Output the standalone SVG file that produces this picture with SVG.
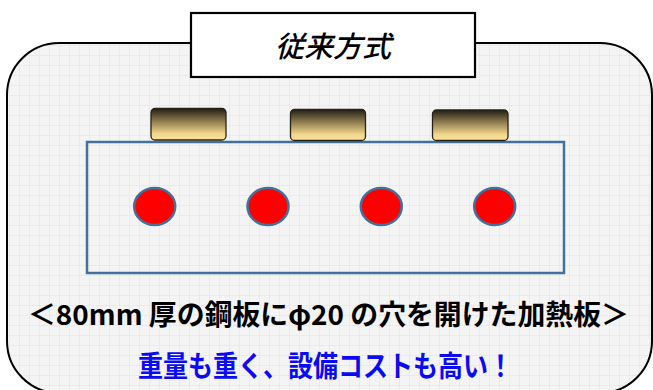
<svg xmlns="http://www.w3.org/2000/svg" width="653" height="390" viewBox="0 0 653 390">
  <style>
    .jp { font-family: "Noto Sans CJK JP", "Noto Sans", sans-serif; }
    .heater { stroke: #262218; stroke-width: 1.3; fill: url(#heatGrad); }
    .hole { fill: #ff0000; stroke: #41719c; stroke-width: 2.5; }
  </style>
  <defs>
    <pattern id="grid" width="10" height="10" patternUnits="userSpaceOnUse" x="9" y="5">
      <rect width="10" height="10" fill="#f4f4f4"/>
      <path d="M0.5 0 V10 M0 0.5 H10" stroke="#eaeaea" stroke-width="1" fill="none"/>
    </pattern>
    <linearGradient id="heatGrad" x1="0" y1="0" x2="0" y2="1">
      <stop offset="0" stop-color="#231e14"/>
      <stop offset="0.45" stop-color="#9a8656"/>
      <stop offset="0.8" stop-color="#f1d68c"/>
      <stop offset="1" stop-color="#fae49a"/>
    </linearGradient>
  </defs>
  <rect width="653" height="390" fill="#ffffff"/>

  <g id="frame">
    <rect x="7" y="43" width="645" height="350" rx="52" ry="52" fill="url(#grid)" stroke="#000000" stroke-width="2"/>
  </g>

  <g id="title">
    <rect x="191" y="13" width="284" height="64" fill="#ffffff" stroke="#000000" stroke-width="2.2"/>
    <text x="333" y="57" text-anchor="middle" class="jp" font-size="29" font-weight="500" font-style="italic" fill="#000000">従来方式</text>
  </g>

  <g id="plate">
    <rect x="87" y="142" width="477" height="131" fill="none" stroke="#41719c" stroke-width="2.5"/>
  </g>

  <g id="heater1"><rect class="heater" x="151" y="108.5" width="75" height="31.5" rx="4"/></g>
  <g id="heater2"><rect class="heater" x="290.5" y="109.5" width="75" height="31" rx="4"/></g>
  <g id="heater3"><rect class="heater" x="432.5" y="110" width="75.5" height="30.5" rx="4"/></g>

  <g id="hole1"><ellipse class="hole" cx="154.7" cy="206.5" rx="20.5" ry="18.5"/></g>
  <g id="hole2"><ellipse class="hole" cx="268" cy="206.5" rx="20.5" ry="18.5"/></g>
  <g id="hole3"><ellipse class="hole" cx="381.3" cy="206.5" rx="20.5" ry="18.5"/></g>
  <g id="hole4"><ellipse class="hole" cx="494.7" cy="206.5" rx="20.5" ry="18.5"/></g>

  <g id="connectors"></g>

  <g id="caption">
    <text x="28" y="325" class="jp" font-size="28" font-weight="bold" fill="#000000" textLength="601" lengthAdjust="spacingAndGlyphs">＜80mm 厚の鋼板にφ20 の穴を開けた加熱板＞</text>
    <text x="138" y="377" class="jp" font-size="29" font-weight="bold" fill="#0a0af5" textLength="375" lengthAdjust="spacingAndGlyphs">重量も重く、設備コストも高い！</text>
  </g>
</svg>
